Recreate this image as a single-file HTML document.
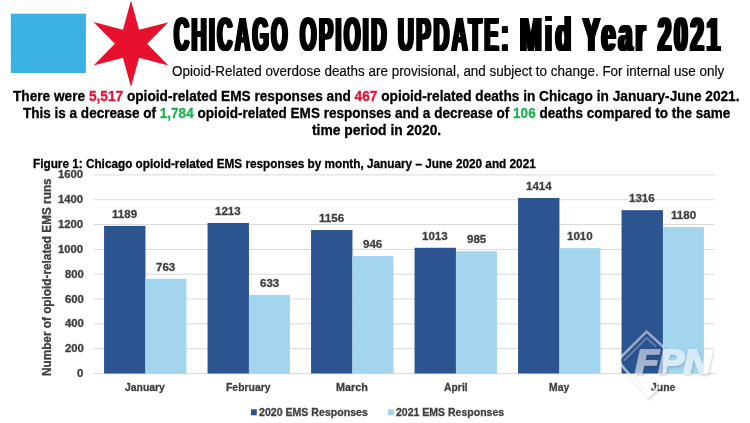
<!DOCTYPE html>
<html lang="en"><head><meta charset="utf-8"><title>Chicago Opioid Update: Mid Year 2021</title>
<style>
html,body{margin:0;padding:0;background:#fff;}
body{width:750px;height:423px;position:relative;overflow:hidden;font-family:"Liberation Sans",sans-serif;}
svg{position:absolute;left:0;top:0;}
h1{margin:0;padding:0;font-size:0;line-height:0;}
.t{position:absolute;white-space:nowrap;line-height:1;font-weight:700;transform-origin:0 0;-webkit-text-stroke:0.3px currentColor;}
.tt{-webkit-text-stroke:0;}
.n{-webkit-text-stroke:0.18px currentColor;}
</style></head><body>
<svg width="750" height="423" viewBox="0 0 750 423">
<defs><linearGradient id="wg" x1="0" y1="0" x2="0" y2="1"><stop offset="0" stop-color="#fff" stop-opacity="0.42"/><stop offset="1" stop-color="#fff" stop-opacity="0.72"/></linearGradient><mask id="wmask" maskUnits="userSpaceOnUse" x="600" y="320" width="140" height="90"><rect x="600" y="320" width="140" height="90" fill="url(#wg)"/></mask><filter id="sh" x="-20%" y="-20%" width="140%" height="150%"><feDropShadow dx="1.0" dy="1.4" stdDeviation="1.3" flood-color="#000" flood-opacity="0.32"/></filter></defs>
<rect x="10.8" y="13.7" width="75.1" height="59.3" fill="#3cb2e4"/>
<polygon points="131.00,0.50 139.05,29.81 168.46,22.13 147.10,43.75 168.46,65.38 139.05,57.69 131.00,87.00 122.95,57.69 93.54,65.38 114.90,43.75 93.54,22.12 122.95,29.81" fill="#e8112d"/>
<line x1="93.7" x2="714.7" y1="373.50" y2="373.50" stroke="#d9d9d9" stroke-width="1"/>
<line x1="93.7" x2="714.7" y1="348.68" y2="348.68" stroke="#d9d9d9" stroke-width="1"/>
<line x1="93.7" x2="714.7" y1="323.85" y2="323.85" stroke="#d9d9d9" stroke-width="1"/>
<line x1="93.7" x2="714.7" y1="299.02" y2="299.02" stroke="#d9d9d9" stroke-width="1"/>
<line x1="93.7" x2="714.7" y1="274.20" y2="274.20" stroke="#d9d9d9" stroke-width="1"/>
<line x1="93.7" x2="714.7" y1="249.38" y2="249.38" stroke="#d9d9d9" stroke-width="1"/>
<line x1="93.7" x2="714.7" y1="224.55" y2="224.55" stroke="#d9d9d9" stroke-width="1"/>
<line x1="93.7" x2="714.7" y1="199.72" y2="199.72" stroke="#d9d9d9" stroke-width="1"/>
<line x1="93.7" x2="714.7" y1="174.90" y2="174.90" stroke="#d9d9d9" stroke-width="1"/>
<rect x="104.05" y="225.92" width="41.4" height="147.58" fill="#2c5491"/>
<rect x="145.45" y="278.79" width="41.0" height="94.71" fill="#a4d5ee"/>
<rect x="207.55" y="222.94" width="41.4" height="150.56" fill="#2c5491"/>
<rect x="248.95" y="294.93" width="41.0" height="78.57" fill="#a4d5ee"/>
<rect x="311.05" y="230.01" width="41.4" height="143.49" fill="#2c5491"/>
<rect x="352.45" y="256.08" width="41.0" height="117.42" fill="#a4d5ee"/>
<rect x="414.55" y="247.76" width="41.4" height="125.74" fill="#2c5491"/>
<rect x="455.95" y="251.24" width="41.0" height="122.26" fill="#a4d5ee"/>
<rect x="518.05" y="197.99" width="41.4" height="175.51" fill="#2c5491"/>
<rect x="559.45" y="248.13" width="41.0" height="125.37" fill="#a4d5ee"/>
<rect x="621.55" y="210.15" width="41.4" height="163.35" fill="#2c5491"/>
<rect x="662.95" y="227.03" width="41.0" height="146.47" fill="#a4d5ee"/>
<rect x="251.0" y="409.3" width="5.8" height="6.0" fill="#2c5491"/>
<rect x="388.0" y="409.3" width="5.8" height="6.0" fill="#a4d5ee"/>
</svg>
<h1>
<div class="t tt" style="left:174.35px;top:11.20px;font-size:48.0px;color:#000;transform:scaleX(0.4353);letter-spacing:5.65px;text-shadow:1.72px 0 0 #000,-1.72px 0 0 #000,3.45px 0 0 #000,-3.45px 0 0 #000;">CHICAGO</div>
<div class="t tt" style="left:300.04px;top:11.20px;font-size:48.0px;color:#000;transform:scaleX(0.4407);letter-spacing:5.65px;text-shadow:1.70px 0 0 #000,-1.70px 0 0 #000,3.40px 0 0 #000,-3.40px 0 0 #000;">OPIOID</div>
<div class="t tt" style="left:398.48px;top:11.20px;font-size:48.0px;color:#000;transform:scaleX(0.4540);letter-spacing:5.65px;text-shadow:1.65px 0 0 #000,-1.65px 0 0 #000,3.30px 0 0 #000,-3.30px 0 0 #000;">UPDATE:</div>
<div class="t tt" style="left:519.77px;top:11.20px;font-size:48.0px;color:#000;transform:scaleX(0.5419);letter-spacing:6.0px;text-shadow:1.57px 0 0 #000,-1.57px 0 0 #000,3.14px 0 0 #000,-3.14px 0 0 #000;">Mid</div>
<div class="t tt" style="left:582.81px;top:11.20px;font-size:48.0px;color:#000;transform:scaleX(0.5212);letter-spacing:6.0px;text-shadow:1.73px 0 0 #000,-1.73px 0 0 #000,3.45px 0 0 #000,-3.45px 0 0 #000;">Year</div>
<div class="t tt" style="left:657.56px;top:11.20px;font-size:48.0px;color:#000;transform:scaleX(0.4964);letter-spacing:6.0px;text-shadow:1.81px 0 0 #000,-1.81px 0 0 #000,3.63px 0 0 #000,-3.63px 0 0 #000;">2021</div>
</h1>
<div class="t n" style="left:172.42px;top:65.20px;font-size:13.8px;color:#0a0a0a;transform:scaleX(0.9742);font-weight:400;">Opioid-Related overdose deaths are provisional, and subject to change. For internal use only</div>
<div class="t " style="left:13.21px;top:89.20px;font-size:14.4px;color:#000;transform:scaleX(0.9492);">There were <span style="color:#e4132f">5,517</span> opioid-related EMS responses and <span style="color:#e4132f">467</span> opioid-related deaths in Chicago in January-June 2021.</div>
<div class="t " style="left:22.61px;top:106.20px;font-size:14.4px;color:#000;transform:scaleX(0.9398);">This is a decrease of <span style="color:#1fb250">1,784</span> opioid-related EMS responses and a decrease of <span style="color:#1fb250">106</span> deaths compared to the same</div>
<div class="t " style="left:311.60px;top:123.20px;font-size:14.4px;color:#000;transform:scaleX(0.9615);">time period in 2020.</div>
<div class="t " style="left:32.55px;top:158.20px;font-size:12.5px;color:#000;transform:scaleX(0.9411);">Figure 1: Chicago opioid-related EMS responses by month, January &ndash; June 2020 and 2021</div>
<div class="t " style="left:77.12px;top:369.20px;font-size:10.2px;color:#404040;transform:scaleX(1.1100);">0</div>
<div class="t " style="left:64.52px;top:344.20px;font-size:10.2px;color:#404040;transform:scaleX(1.1100);">200</div>
<div class="t " style="left:64.52px;top:319.20px;font-size:10.2px;color:#404040;transform:scaleX(1.1100);">400</div>
<div class="t " style="left:64.52px;top:295.20px;font-size:10.2px;color:#404040;transform:scaleX(1.1100);">600</div>
<div class="t " style="left:64.52px;top:270.20px;font-size:10.2px;color:#404040;transform:scaleX(1.1100);">800</div>
<div class="t " style="left:58.23px;top:245.20px;font-size:10.2px;color:#404040;transform:scaleX(1.1100);">1000</div>
<div class="t " style="left:58.23px;top:220.20px;font-size:10.2px;color:#404040;transform:scaleX(1.1100);">1200</div>
<div class="t " style="left:58.23px;top:195.20px;font-size:10.2px;color:#404040;transform:scaleX(1.1100);">1400</div>
<div class="t " style="left:58.23px;top:170.20px;font-size:10.2px;color:#404040;transform:scaleX(1.1100);">1600</div>
<div class="t " style="left:125.48px;top:382.20px;font-size:11.0px;color:#404040;transform:scaleX(0.9450);">January</div>
<div class="t " style="left:226.39px;top:382.20px;font-size:11.0px;color:#404040;transform:scaleX(0.9450);">February</div>
<div class="t " style="left:336.45px;top:382.20px;font-size:11.0px;color:#404040;transform:scaleX(0.9850);">March</div>
<div class="t " style="left:444.37px;top:382.20px;font-size:11.0px;color:#404040;transform:scaleX(0.9450);">April</div>
<div class="t " style="left:549.02px;top:382.20px;font-size:11.0px;color:#404040;transform:scaleX(0.9450);">May</div>
<div class="t " style="left:650.92px;top:382.20px;font-size:11.0px;color:#404040;transform:scaleX(0.9450);">June</div>
<div class="t " style="left:112.27px;top:209.20px;font-size:11.0px;color:#404040;transform:scaleX(1.0500);">1189</div>
<div class="t " style="left:156.27px;top:262.20px;font-size:11.0px;color:#404040;transform:scaleX(1.0500);">763</div>
<div class="t " style="left:215.45px;top:206.20px;font-size:11.0px;color:#404040;transform:scaleX(1.0500);">1213</div>
<div class="t " style="left:259.77px;top:278.20px;font-size:11.0px;color:#404040;transform:scaleX(1.0500);">633</div>
<div class="t " style="left:319.27px;top:213.20px;font-size:11.0px;color:#404040;transform:scaleX(1.0500);">1156</div>
<div class="t " style="left:363.32px;top:239.20px;font-size:11.0px;color:#404040;transform:scaleX(1.0500);">946</div>
<div class="t " style="left:422.45px;top:231.20px;font-size:11.0px;color:#404040;transform:scaleX(1.0500);">1013</div>
<div class="t " style="left:466.77px;top:234.20px;font-size:11.0px;color:#404040;transform:scaleX(1.0500);">985</div>
<div class="t " style="left:525.80px;top:181.20px;font-size:11.0px;color:#404040;transform:scaleX(1.0500);">1414</div>
<div class="t " style="left:567.01px;top:231.20px;font-size:11.0px;color:#404040;transform:scaleX(1.0500);">1010</div>
<div class="t " style="left:629.45px;top:193.20px;font-size:11.0px;color:#404040;transform:scaleX(1.0500);">1316</div>
<div class="t " style="left:670.83px;top:210.20px;font-size:11.0px;color:#404040;transform:scaleX(1.0500);">1180</div>
<div class="t " style="left:41.20px;top:375.53px;font-size:12.3px;color:#404040;transform:rotate(-90deg) scaleX(0.9579);">Number of opioid-related EMS runs</div>
<div class="t " style="left:259.10px;top:407.20px;font-size:10.6px;color:#404040;transform:scaleX(0.9991);">2020 EMS Responses</div>
<div class="t " style="left:396.40px;top:407.20px;font-size:10.6px;color:#404040;transform:scaleX(0.9926);">2021 EMS Responses</div>
<svg width="750" height="423" viewBox="0 0 750 423">

<g mask="url(#wmask)">
 <g filter="url(#sh)">
  <polyline points="664,347.5 646.6,331.6 617.5,360.5 648.3,396.3 659,386.5" fill="none" stroke="#fff" stroke-width="2.6" stroke-linejoin="miter"/>
  <polyline points="624,360.5 646.6,338 656,346.5" fill="none" stroke="#fff" stroke-opacity="0.45" stroke-width="2.2"/>
  <text x="635.2" y="373.4" font-family="'Liberation Sans',sans-serif" font-weight="bold" font-style="italic" font-size="33.5" fill="#fff" stroke="#fff" stroke-width="2.2" stroke-linejoin="round" textLength="76" lengthAdjust="spacingAndGlyphs">FPN</text>
 </g>
</g>
</svg>
</body></html>
